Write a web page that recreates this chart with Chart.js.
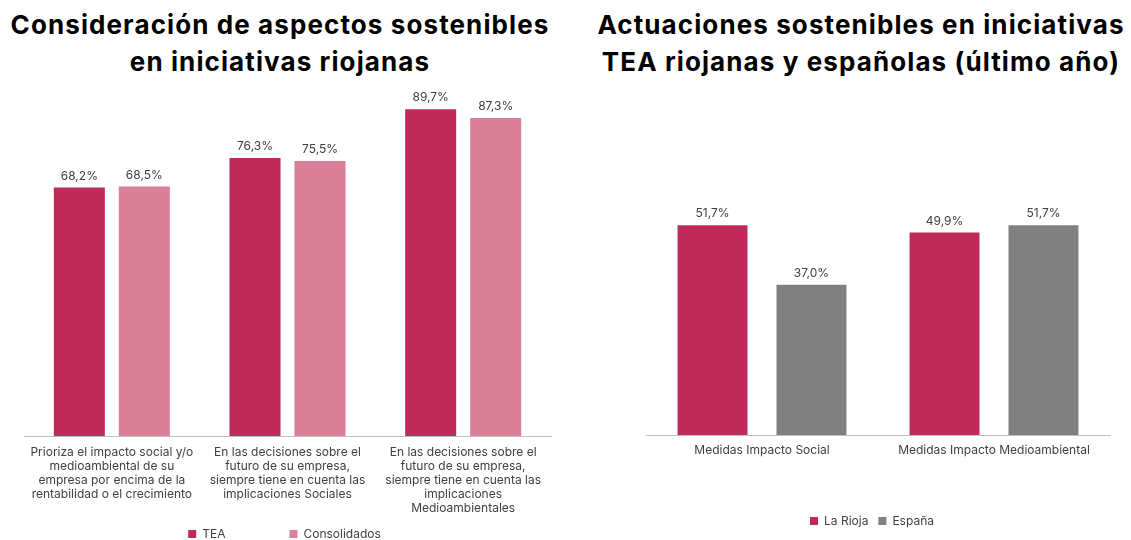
<!DOCTYPE html>
<html lang="es">
<head>
<meta charset="utf-8">
<script src="https://cdn.jsdelivr.net/npm/chart.js@4.4.1/dist/chart.umd.min.js"></script>
<style>
  html, body { margin: 0; padding: 0; background: #fff; width: 1131px; height: 540px; overflow: hidden; }
  .title { position: absolute; top: 6px; font: 700 26px Inter, sans-serif; letter-spacing: 1.1px; line-height: 37px; text-align: center; color: #000; }
  .box { position: absolute; top: 0; height: 550px; }
</style>
</head>
<body>
<div class="title" style="left:0;width:560px">Consideración de aspectos sostenibles<br>en iniciativas riojanas</div>
<div class="title" style="left:592px;width:538px">Actuaciones sostenibles en iniciativas<br>TEA riojanas y españolas (último año)</div>
<div class="box" style="left:0;width:565px"><canvas id="left"></canvas></div>
<div class="box" style="left:565px;width:566px"><canvas id="right"></canvas></div>
<script>
// left chart data
const aspectCategories = [
  ['Prioriza el impacto social y/o', 'medioambiental de su', 'empresa por encima de la', 'rentabilidad o el crecimiento'],
  ['En las decisiones sobre el', 'futuro de su empresa,', 'siempre tiene en cuenta las', 'implicaciones Sociales'],
  ['En las decisiones sobre el', 'futuro de su empresa,', 'siempre tiene en cuenta las', 'implicaciones', 'Medioambientales']
];
const teaValues = [68.2, 76.3, 89.7];
const consolidadosValues = [68.5, 75.5, 87.3];

// right chart data
const actionCategories = ['Medidas Impacto Social', 'Medidas Impacto Medioambiental'];
const riojaValues = [51.7, 49.9];
const espanaValues = [37.0, 51.7];

const CRIMSON = '#C02A5A';
const PINK = '#D97F98';
const GREY = '#808080';
const TEXT = '#404040';

Chart.defaults.font.family = 'Inter, sans-serif';
Chart.defaults.font.size = 12;
Chart.defaults.color = TEXT;

const valueLabels = {
  id: 'valueLabels',
  afterDatasetsDraw(chart) {
    const ctx = chart.ctx;
    ctx.save();
    ctx.font = '12px Inter, sans-serif';
    ctx.fillStyle = TEXT;
    ctx.textAlign = 'center';
    ctx.textBaseline = 'middle';
    chart.data.datasets.forEach((ds, i) => {
      chart.getDatasetMeta(i).data.forEach((bar, j) => {
        const txt = ds.data[j].toFixed(1).replace('.', ',') + '%';
        ctx.fillText(txt, bar.x, bar.y - 11.5);
      });
    });
    ctx.restore();
  }
};

function makeChart(id, labels, datasets, opts) {
  return new Chart(document.getElementById(id), {
    type: 'bar',
    data: { labels: labels, datasets: datasets },
    options: {
      responsive: true,
      maintainAspectRatio: false,
      animation: false,
      layout: { padding: opts.padding },
      datasets: { bar: { categoryPercentage: opts.cat, barPercentage: opts.bar } },
      plugins: {
        tooltip: { enabled: false },
        title: { display: false },
        legend: {
          position: 'bottom',
          labels: {
            boxWidth: 8,
            boxHeight: 8,
            padding: 10,
            color: TEXT,
            font: { size: 12 },
            generateLabels(chart) {
              const items = Chart.defaults.plugins.legend.labels.generateLabels(chart);
              items.forEach((it, k) => { it.text = it.text + (opts.legendPad[k] || ''); it.lineWidth = 0; });
              return items;
            }
          }
        }
      },
      scales: {
        x: {
          grid: { display: false, drawTicks: false },
          border: { display: true, color: '#BFBFBF', width: 1 },
          ticks: { padding: opts.tickPad, color: TEXT, font: { size: 12, lineHeight: 1.17 }, maxRotation: 0, autoSkip: false },
          afterFit(scale) { scale.height = opts.xHeight; }
        },
        y: { display: false, min: 0, max: opts.max }
      }
    },
    plugins: [valueLabels]
  });
}

makeChart('left', aspectCategories, [
  { label: 'TEA', data: teaValues, backgroundColor: CRIMSON },
  { label: 'Consolidados', data: consolidadosValues, backgroundColor: PINK }
], { padding: { left: 24, right: 14, top: 90, bottom: 0 }, cat: 0.74, bar: 0.785, max: 95, tickPad: 9, xHeight: 82, legendPad: ['\u2003\u2003\u2003\u2003\u2002', '\u2002'] });

makeChart('right', actionCategories, [
  { label: 'La Rioja', data: riojaValues, backgroundColor: CRIMSON },
  { label: 'España', data: espanaValues, backgroundColor: GREY }
], { padding: { left: 81, right: 21, top: 90, bottom: 13 }, cat: 0.853, bar: 0.707, max: 85, tickPad: 8, xHeight: 70, legendPad: ['', '\u2003'] });
</script>
</body>
</html>
